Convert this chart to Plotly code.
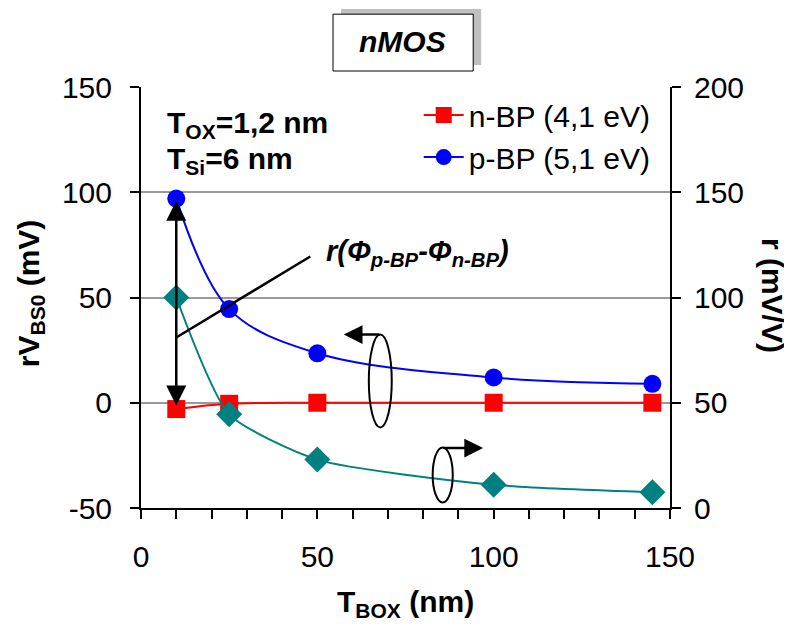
import plotly.graph_objects as go

# data
tbox = [10, 25, 50, 100, 145]
vbs0_nbp = [-3, -0.5, 0, 0, 0]        # rVBS0 (mV), n-BP gate
vbs0_pbp = [97, 44.5, 23.5, 12, 9]    # rVBS0 (mV), p-BP gate
r_coef = [100, 44.5, 23, 11, 7.5]     # r (mV/V), right axis

left_ticks = [-50, 0, 50, 100, 150]
right_ticks = [0, 50, 100, 150, 200]

FONT = "Liberation Sans, Arial, sans-serif"

fig = go.Figure()

fig.add_trace(go.Scatter(
    x=tbox, y=vbs0_nbp, name="n-BP (4,1 eV)", legendgroup="n",
    mode="lines+markers", line=dict(color="#FF0000", width=2, shape="spline"),
    marker=dict(symbol="square", size=18, color="#FF0000"),
))
fig.add_trace(go.Scatter(
    x=tbox, y=vbs0_pbp, name="p-BP (5,1 eV)", legendgroup="p",
    mode="lines+markers", line=dict(color="#0000FF", width=2, shape="spline"),
    marker=dict(symbol="circle", size=18, color="#0000FF"),
))
fig.add_trace(go.Scatter(
    x=tbox, y=r_coef, name="r", yaxis="y2", showlegend=False,
    mode="lines+markers", line=dict(color="#008080", width=2, shape="spline", smoothing=0.6),
    marker=dict(symbol="diamond", size=20, color="#008080"),
))

ann = []
# axis titles
ann.append(dict(xref="paper", yref="paper", x=0.5, y=-0.228, xanchor="center", yanchor="middle",
                showarrow=False, text="<b>T<sub>BOX</sub> (nm)</b>"))
ann.append(dict(xref="paper", yref="paper", x=-0.21, y=0.51, xanchor="center", yanchor="middle",
                showarrow=False, textangle=-90, text="<b>rV<sub>BS0</sub> (mV)</b>"))
ann.append(dict(xref="paper", yref="paper", x=1.193, y=0.506, xanchor="center", yanchor="middle",
                showarrow=False, textangle=90, text="<b>r (mV/V)</b>"))
# parameters
ann.append(dict(xref="paper", yref="paper", x=0.045, y=0.912, xanchor="left", yanchor="middle",
                showarrow=False, text="<b>T<sub>OX</sub>=1,2 nm</b>"))
ann.append(dict(xref="paper", yref="paper", x=0.045, y=0.826, xanchor="left", yanchor="middle",
                showarrow=False, text="<b>T<sub>Si</sub>=6 nm</b>"))
# r(phi_p - phi_n) label
ann.append(dict(x=52, y=71, xanchor="left", yanchor="middle", showarrow=False,
                text="<b><i>r(Φ<sub>p-BP</sub>-Φ<sub>n-BP</sub>)</i></b>", font=dict(size=29)))
# title box
ann.append(dict(xref="paper", yref="paper", x=0.495, y=1.107, xanchor="center", yanchor="middle",
                showarrow=False, text="<b><i>nMOS</i></b>"))
# double arrow at TBOX=10
ann.append(dict(x=10, y=96, ax=10, ay=-2, axref="x", ayref="y", text="", showarrow=True,
                arrowside="end+start", arrowhead=2, arrowsize=1.6, arrowwidth=2.5, arrowcolor="black"))
# axis-pointer arrows next to ellipses
ann.append(dict(x=57.5, y=32.4, ax=68, ay=32.4, axref="x", ayref="y", text="", showarrow=True,
                arrowhead=2, arrowsize=1.5, arrowwidth=2.5, arrowcolor="black"))
ann.append(dict(x=97, y=-21.5, ax=85.4, ay=-21.5, axref="x", ayref="y", text="", showarrow=True,
                arrowhead=2, arrowsize=1.5, arrowwidth=2.5, arrowcolor="black"))

shapes = [
    # title box with shadow
    dict(type="rect", xref="paper", yref="paper", x0=0.378, x1=0.643, y0=1.052, y1=1.185,
         fillcolor="#C0C0C0", line=dict(width=0)),
    dict(type="rect", xref="paper", yref="paper", x0=0.363, x1=0.628, y0=1.038, y1=1.173,
         fillcolor="white", line=dict(color="black", width=1)),
    # leader line
    dict(type="line", x0=10, y0=31, x1=48, y1=69.5, line=dict(color="black", width=2.5)),
    # ellipses
    dict(type="circle", x0=64.6, x1=71.1, y0=-11.7, y1=32.4, line=dict(color="black", width=2)),
    dict(type="circle", x0=82.7, x1=88.4, y0=-47.4, y1=-21.2, line=dict(color="black", width=2)),
]

tick_common = dict(ticklen=9, tickwidth=2, tickcolor="black", zeroline=False)

# the page body adds an 8px offset, so the figure is 8px smaller and margins shifted
fig.update_layout(
    width=784, height=618,
    margin=dict(l=133, r=122, t=79, b=118),
    paper_bgcolor="white", plot_bgcolor="white",
    font=dict(family=FONT, size=30, color="black"),
    showlegend=True,
    legend=dict(x=0.525, y=0.995, xanchor="left", yanchor="top", bgcolor="rgba(0,0,0,0)",
                font=dict(size=30), tracegroupgap=0, itemwidth=40),
    xaxis=dict(range=[0, 150], tickvals=[0, 50, 100, 150], showline=True, linecolor="black",
               linewidth=2, ticks="outside", showgrid=False, ticklabelstandoff=12,
               minor=dict(dtick=10, ticks="outside", ticklen=9, tickwidth=2, tickcolor="black"),
               **tick_common),
    yaxis=dict(range=[-50, 150], tickvals=left_ticks, ticktext=[str(v) for v in left_ticks],
               showline=True, linecolor="black", linewidth=2, ticks="outside",
               showgrid=True, gridcolor="#999999", gridwidth=2, ticklabelstandoff=12,
               **tick_common),
    yaxis2=dict(range=[0, 200], tickvals=right_ticks, overlaying="y", side="right",
                showline=True, linecolor="black", linewidth=2, ticks="outside",
                showgrid=False, ticklabelstandoff=7, **tick_common),
    # inner halves of the crossing y ticks
    yaxis3=dict(range=[-50, 150], tickvals=left_ticks, overlaying="y", side="left",
                ticks="inside", showticklabels=False, showgrid=False, **tick_common),
    yaxis4=dict(range=[0, 200], tickvals=right_ticks, overlaying="y", side="right",
                ticks="inside", showticklabels=False, showgrid=False, **tick_common),
    annotations=ann,
    shapes=shapes,
)

fig.write_html("out.html")
